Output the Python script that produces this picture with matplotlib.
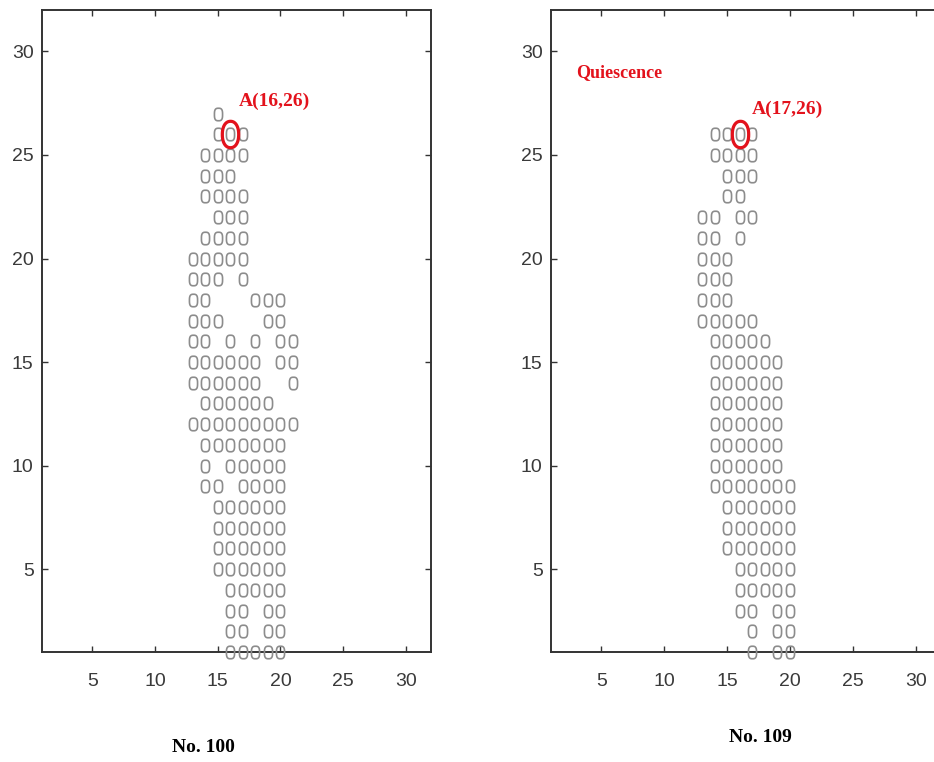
import matplotlib
matplotlib.use("Agg")
import matplotlib.pyplot as plt
import numpy as np
from matplotlib.path import Path
from matplotlib import font_manager

# occupied cells, row by row from the top (y value, x values)
no100_y = [27, 26, 25, 24, 23, 22, 21, 20, 19, 18, 17, 16, 15, 14,
           13, 12, 11, 10, 9, 8, 7, 6, 5, 4, 3, 2, 1]
no100_x = [[15], [15, 16, 17], [14, 15, 16, 17], [14, 15, 16],
           [14, 15, 16, 17], [15, 16, 17], [14, 15, 16, 17],
           [13, 14, 15, 16, 17], [13, 14, 15, 17], [13, 14, 18, 19, 20],
           [13, 14, 15, 19, 20], [13, 14, 16, 18, 20, 21],
           [13, 14, 15, 16, 17, 18, 20, 21], [13, 14, 15, 16, 17, 18, 21],
           [14, 15, 16, 17, 18, 19], [13, 14, 15, 16, 17, 18, 19, 20, 21],
           [14, 15, 16, 17, 18, 19, 20], [14, 16, 17, 18, 19, 20],
           [14, 15, 17, 18, 19, 20], [15, 16, 17, 18, 19, 20],
           [15, 16, 17, 18, 19, 20], [15, 16, 17, 18, 19, 20],
           [15, 16, 17, 18, 19, 20], [16, 17, 18, 19, 20],
           [16, 17, 19, 20], [16, 17, 19, 20], [16, 17, 18, 19, 20]]

no109_y = [26, 25, 24, 23, 22, 21, 20, 19, 18, 17, 16, 15, 14, 13,
           12, 11, 10, 9, 8, 7, 6, 5, 4, 3, 2, 1]
no109_x = [[14, 15, 16, 17], [14, 15, 16, 17], [15, 16, 17], [15, 16],
           [13, 14, 16, 17], [13, 14, 16], [13, 14, 15], [13, 14, 15],
           [13, 14, 15], [13, 14, 15, 16, 17], [14, 15, 16, 17, 18],
           [14, 15, 16, 17, 18, 19], [14, 15, 16, 17, 18, 19],
           [14, 15, 16, 17, 18, 19], [14, 15, 16, 17, 18, 19],
           [14, 15, 16, 17, 18, 19], [14, 15, 16, 17, 18, 19],
           [14, 15, 16, 17, 18, 19, 20], [15, 16, 17, 18, 19, 20],
           [15, 16, 17, 18, 19, 20], [15, 16, 17, 18, 19, 20],
           [16, 17, 18, 19, 20], [16, 17, 18, 19, 20],
           [16, 17, 19, 20], [17, 19, 20], [17, 19, 20]]

ticks = [5, 10, 15, 20, 25, 30]
marked_100 = (16, 26)
marked_109 = (16, 26)
label_100 = "A(16,26)"
label_109 = "A(17,26)"


def rounded_box(w, h, n=4, num=60):
    # superellipse outline used as an open marker
    t = np.linspace(0, 2 * np.pi, num)
    c, s = np.cos(t), np.sin(t)
    x = w * np.sign(c) * np.abs(c) ** (2.0 / n)
    y = h * np.sign(s) * np.abs(s) ** (2.0 / n)
    return Path(np.column_stack([x, y]), closed=True)


cell = rounded_box(0.65, 1.0, n=3)
ring = rounded_box(0.62, 1.0, n=2.2)

try:
    font_manager.findfont("Liberation Sans Narrow", fallback_to_default=False)
    tick_family, tick_size = "Liberation Sans Narrow", 16
except ValueError:
    tick_family, tick_size = "Liberation Sans", 14

W, H = 934, 762
fig = plt.figure(figsize=(W / 100, H / 100), dpi=100)
ax1 = fig.add_axes([42 / W, 110 / H, 389 / W, 642 / H])
ax2 = fig.add_axes([551 / W, 110 / H, 390 / W, 642 / H])


def draw_panel(ax, ys, xs, mark, label, label_xy):
    px, py = [], []
    for y, row in zip(ys, xs):
        px += row
        py += [y] * len(row)
    ax.plot(px, py, linestyle="none", marker=cell, markersize=9,
            markerfacecolor="none", markeredgecolor="#8c8c8c",
            markeredgewidth=1.2, clip_on=False, zorder=3)
    ax.plot([mark[0]], [mark[1]], linestyle="none", marker=ring,
            markersize=19, markerfacecolor="none", markeredgecolor="#e3121c",
            markeredgewidth=2.3, clip_on=False, zorder=4)
    ax.text(label_xy[0], label_xy[1], label, color="#e3121c",
            fontfamily="Liberation Serif", fontweight="bold", fontsize=14,
            ha="left", va="center")
    ax.set_xlim(1, 32)
    ax.set_ylim(1, 32)
    ax.set_xticks(ticks)
    ax.set_yticks(ticks)
    ax.tick_params(direction="in", length=4, width=1, top=True, right=True,
                   color="#333333", labelcolor="#3a3a3a",
                   labelsize=tick_size)
    ax.tick_params(axis="x", pad=15)
    ax.tick_params(axis="y", pad=6)
    for lab in ax.get_xticklabels() + ax.get_yticklabels():
        lab.set_fontfamily(tick_family)
    for sp in ax.spines.values():
        sp.set_color("#333333")
        sp.set_linewidth(1.4)


draw_panel(ax1, no100_y, no100_x, marked_100, label_100, (16.7, 27.6))
draw_panel(ax2, no109_y, no109_x, marked_109, label_109, (17.0, 27.2))

ax2.text(3.0, 29.0, "Quiescence", color="#e3121c",
         fontfamily="Liberation Serif", fontweight="bold", fontsize=13,
         ha="left", va="center")

fig.text(203 / W, 1 - 748 / H, "No. 100", fontfamily="Liberation Serif",
         fontweight="bold", fontsize=14, ha="center", va="center")
fig.text(760 / W, 1 - 738 / H, "No. 109", fontfamily="Liberation Serif",
         fontweight="bold", fontsize=14, ha="center", va="center")

fig.savefig("out.png", dpi=100)
